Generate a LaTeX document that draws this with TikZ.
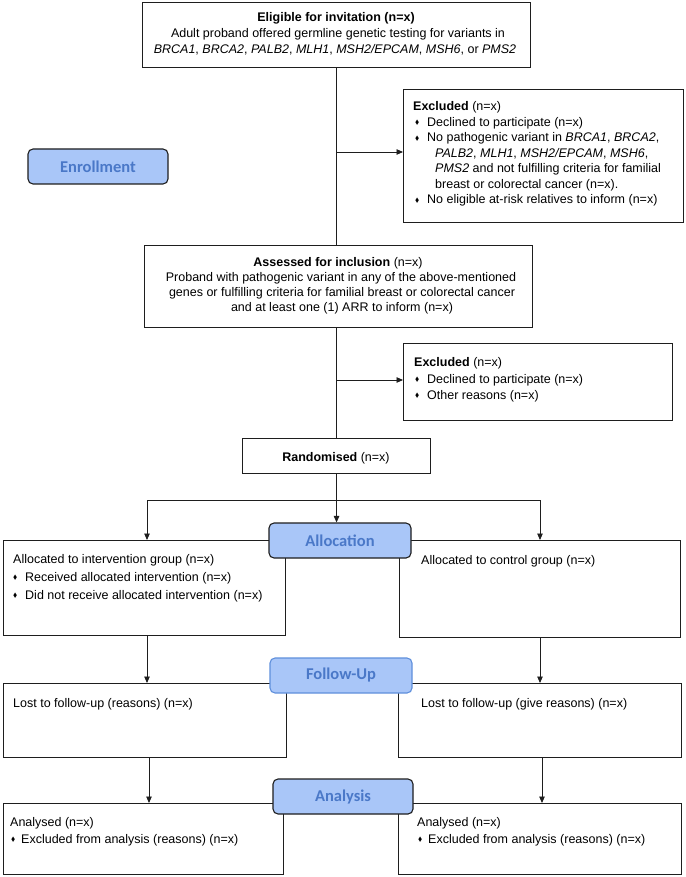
\documentclass[tikz,border=0pt]{standalone}
\usepackage{fontspec}
\usepackage{amssymb}
\usepackage{graphicx}
\setmainfont{Liberation Sans}
\newfontfamily\stagefont{Carlito}
\usetikzlibrary{arrows.meta}
\definecolor{stagefill}{HTML}{A9C6F8}
\definecolor{stagetext}{HTML}{4A78C8}
\definecolor{stageedge}{HTML}{5F8FDC}
\definecolor{edge}{HTML}{1E1E1E}
\newcommand\bul{\raisebox{0.25ex}{\scalebox{0.5}{$\blacklozenge$}}}
\newcommand\bitem[2]{\makebox[#1][l]{\bul}#2}
\begin{document}
\begin{tikzpicture}[x=1pt,y=-1pt,
  box/.style={draw=edge, line width=1.1pt, fill=white, inner sep=0pt, anchor=north west},
  txt/.style={inner sep=0pt, font=\fontsize{12.5}{15}\selectfont},
  stage/.style={draw=edge, line width=1.1pt, rounded corners=5pt, fill=stagefill,
     minimum width=140pt, minimum height=35pt, inner sep=0pt,
     font=\stagefont\bfseries\fontsize{16.5}{18}\selectfont, text=stagetext},
  conn/.style={draw=edge, line width=0.9pt},
  arr/.style={conn, -{Triangle[length=6.5pt,width=5.5pt]}}]
\useasboundingbox (0,0) rectangle (685,877);
\fill[white] (0,0) rectangle (685,877);

% boxes
\node[box, minimum width=388pt, minimum height=65pt] (elig) at (142,2) {};
\node[box, minimum width=280pt, minimum height=133pt] (ex1) at (403,89) {};
\node[box, minimum width=388pt, minimum height=82pt] (assess) at (144,245) {};
\node[box, minimum width=269pt, minimum height=77pt] (ex2) at (403,343) {};
\node[box, minimum width=188pt, minimum height=35pt] (rand) at (242,438) {};
\node[box, minimum width=282pt, minimum height=95pt] (allocL) at (3,540) {};
\node[box, minimum width=281pt, minimum height=97pt] (allocR) at (399,540) {};
\node[box, minimum width=283pt, minimum height=74pt] (fuL) at (3,683) {};
\node[box, minimum width=283pt, minimum height=74pt] (fuR) at (398,683) {};
\node[box, minimum width=280pt, minimum height=71pt] (anL) at (3,803) {};
\node[box, minimum width=283pt, minimum height=71pt] (anR) at (398,803) {};

% stage labels
\node[stage] (enr) at (98,166.5) {Enrollment};
\node[stage, minimum width=142pt] (alloc) at (340,540.5) {Allocation};
\node[stage, draw=stageedge, minimum width=142pt] (fu) at (341,675.5) {Follow-Up};
\node[stage, minimum width=140pt] (ana) at (343,796.5) {Analysis};

% texts
\node[txt, anchor=base] (elig1) at (336,22) {\textbf{Eligible for invitation (n=x)}};
\node[txt, anchor=base] (elig2) at (338,38) {Adult proband offered germline genetic testing for variants in};
\node[txt, anchor=base] (elig3) at (335,54) {\textit{BRCA1}, \textit{BRCA2}, \textit{PALB2}, \textit{MLH1}, \textit{MSH2/EPCAM}, \textit{MSH6}, or \textit{PMS2}};

\node[txt, anchor=base west] (ex1a) at (413,111) {\textbf{Excluded} (n=x)};
\node[txt, anchor=base west] (ex1b) at (415,126.5) {\bitem{12pt}{Declined to participate (n=x)}};
\node[txt, anchor=base west] (ex1c) at (415,142) {\bitem{12pt}{No pathogenic variant in \textit{BRCA1}, \textit{BRCA2},}};
\node[txt, anchor=base west] (ex1d) at (435,157.5) {\textit{PALB2}, \textit{MLH1}, \textit{MSH2/EPCAM}, \textit{MSH6},};
\node[txt, anchor=base west] (ex1e) at (435,173) {\textit{PMS2} and not fulfilling criteria for familial};
\node[txt, anchor=base west] (ex1f) at (435,188.5) {breast or colorectal cancer (n=x).};
\node[txt, anchor=base west] (ex1g) at (415,204) {\bitem{12pt}{No eligible at-risk relatives to inform (n=x)}};

\node[txt, anchor=base] (as1) at (338,266) {\textbf{Assessed for inclusion} (n=x)};
\node[txt, anchor=base] (as2) at (341,281.5) {Proband with pathogenic variant in any of the above-mentioned};
\node[txt, anchor=base] (as3) at (342,296.5) {genes or fulfilling criteria for familial breast or colorectal cancer};
\node[txt, anchor=base] (as4) at (342,311.5) {and at least one (1) ARR to inform (n=x)};

\node[txt, anchor=base west] (ex2a) at (414,366) {\textbf{Excluded} (n=x)};
\node[txt, anchor=base west] (ex2b) at (415,383) {\bitem{12pt}{Declined to participate (n=x)}};
\node[txt, anchor=base west] (ex2c) at (415,399) {\bitem{12pt}{Other reasons (n=x)}};

\node[txt, anchor=base] (rand1) at (336,461) {\textbf{Randomised} (n=x)};

\node[txt, anchor=base west] (al1) at (13,563) {Allocated to intervention group (n=x)};
\node[txt, anchor=base west] (al2) at (13,581) {\bitem{12pt}{Received allocated intervention (n=x)}};
\node[txt, anchor=base west] (al3) at (13,599.5) {\bitem{12pt}{Did not receive allocated intervention (n=x)}};
\node[txt, anchor=base west] (ar1) at (421,564) {Allocated to control group (n=x)};

\node[txt, anchor=base west] (fl1) at (13,707.5) {Lost to follow-up (reasons) (n=x)};
\node[txt, anchor=base west] (fr1) at (421,707.5) {Lost to follow-up (give reasons) (n=x)};

\node[txt, anchor=base west] (nl1) at (10,826.5) {Analysed (n=x)};
\node[txt, anchor=base west] (nl2) at (11,843.5) {\bitem{10pt}{Excluded from analysis (reasons) (n=x)}};
\node[txt, anchor=base west] (nr1) at (417,826.5) {Analysed (n=x)};
\node[txt, anchor=base west] (nr2) at (418,843.5) {\bitem{10pt}{Excluded from analysis (reasons) (n=x)}};

% connectors
\coordinate (b1) at (336,152);
\coordinate (b2) at (336,380);
\coordinate (sl) at (147,500);
\coordinate (sr) at (540,500);
\coordinate (dl) at (149,757);
\coordinate (dr) at (542,757);
\draw[conn] (elig.south) -- (elig.south |- assess.north);
\draw[conn] (assess.south -| elig.south) -- (rand.north -| elig.south);
\draw[arr] (b1) -- (b1 -| ex1.west);
\draw[arr] (b2) -- (b2 -| ex2.west);
\draw[arr] (rand.south) -- (rand.south |- alloc.north);
\draw[conn] (sl) -- (sr);
\draw[arr] (sl) -- (sl |- allocL.north);
\draw[arr] (sr) -- (sr |- allocR.north);
\draw[arr] (sl |- allocL.south) -- (sl |- fuL.north);
\draw[arr] (sr |- allocR.south) -- (sr |- fuR.north);
\draw[arr] (dl) -- (dl |- anL.north);
\draw[arr] (dr) -- (dr |- anR.north);
\end{tikzpicture}
\end{document}
